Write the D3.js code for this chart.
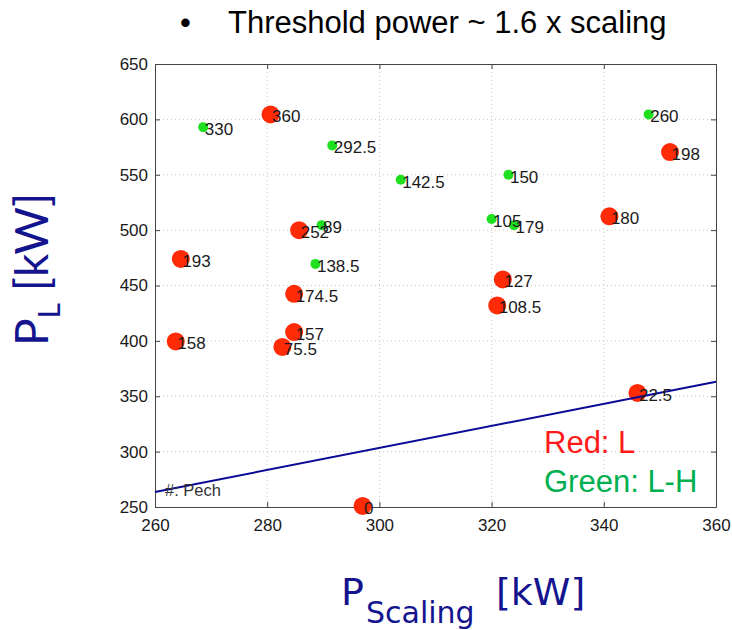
<!DOCTYPE html>
<html>
<head>
<meta charset="utf-8">
<script src="https://cdn.jsdelivr.net/npm/d3@7"></script>
<style>
  html, body { margin: 0; padding: 0; background: #fff; }
  svg { display: block; }
</style>
</head>
<body>
<svg id="chart" width="732" height="630"></svg>
<script>
// L-mode shots (red) and L-H transition shots (green): scaling power vs. measured power, labelled by Pech
const redX     = [280.6, 351.8, 285.7, 341.0, 264.6, 284.8, 263.7, 284.8, 282.7, 322.0, 321.0, 346.0, 297.0];
const redY     = [604.5, 570.5, 500.0, 512.5, 474.0, 442.5, 399.5, 408.0, 394.5, 455.5, 432.0, 353.0, 251.0];
const redLab   = ["360", "198", "252", "180", "193", "174.5", "158", "157", "75.5", "127", "108.5", "22.5", "0"];

const greenX   = [268.6, 291.6, 303.8, 289.7, 348.0, 323.0, 320.0, 324.0, 288.6];
const greenY   = [593.0, 576.5, 545.5, 504.5, 604.5, 550.0, 510.0, 504.5, 469.5];
const greenLab = ["330", "292.5", "142.5", "89", "260", "150", "105", "179", "138.5"];

// threshold line
const lineX = [260, 360];
const lineY = [263.5, 363];

const xTicks = [260, 280, 300, 320, 340, 360];
const yTicks = [250, 300, 350, 400, 450, 500, 550, 600, 650];

const svg = d3.select("#chart");
const margin = { left: 155, top: 64, right: 16, bottom: 123 };
const W = 732 - margin.left - margin.right;
const H = 630 - margin.top - margin.bottom;

const x = d3.scaleLinear().domain([260, 360]).range([0, W]);
const y = d3.scaleLinear().domain([250, 650]).range([H, 0]);

const g = svg.append("g").attr("transform", `translate(${margin.left},${margin.top})`);

// dotted grid
g.append("g").selectAll("line").data(xTicks.slice(1, -1)).join("line")
  .attr("x1", d => x(d)).attr("x2", d => x(d)).attr("y1", 0).attr("y2", H)
  .attr("stroke", "#c8c8c8").attr("stroke-dasharray", "1,3");
g.append("g").selectAll("line").data(yTicks.slice(1, -1)).join("line")
  .attr("y1", d => y(d)).attr("y2", d => y(d)).attr("x1", 0).attr("x2", W)
  .attr("stroke", "#c8c8c8").attr("stroke-dasharray", "1,3");

// axes with inward ticks on all four sides
const tickFont = "Liberation Sans, Arial, sans-serif";
function styleAxis(sel) {
  sel.select(".domain").attr("stroke", "#444");
  sel.selectAll(".tick line").attr("stroke", "#444");
  sel.selectAll(".tick text").attr("fill", "#1a1a1a").style("font-family", tickFont).style("font-size", "17px");
}
g.append("g").attr("transform", `translate(0,${H})`)
  .call(d3.axisBottom(x).tickValues(xTicks).tickSizeInner(-5).tickSizeOuter(0).tickPadding(12))
  .call(styleAxis);
g.append("g")
  .call(d3.axisLeft(y).tickValues(yTicks).tickSizeInner(-5).tickSizeOuter(0).tickPadding(7))
  .call(styleAxis);
g.append("g")
  .call(d3.axisTop(x).tickValues(xTicks).tickSizeInner(-5).tickSizeOuter(0).tickFormat(""))
  .call(styleAxis);
g.append("g").attr("transform", `translate(${W},0)`)
  .call(d3.axisRight(y).tickValues(yTicks).tickSizeInner(-5).tickSizeOuter(0).tickFormat(""))
  .call(styleAxis);

// markers
const red = redX.map((v, i) => ({ x: v, y: redY[i], lab: redLab[i] }));
const green = greenX.map((v, i) => ({ x: v, y: greenY[i], lab: greenLab[i] }));

g.append("g").selectAll("circle").data(red).join("circle")
  .attr("cx", d => x(d.x)).attr("cy", d => y(d.y)).attr("r", 9)
  .attr("fill", "#ff2a06");
g.append("g").selectAll("circle").data(green).join("circle")
  .attr("cx", d => x(d.x)).attr("cy", d => y(d.y)).attr("r", 5)
  .attr("fill", "#1ee01e");

// threshold line
g.append("path")
  .datum(lineX.map((v, i) => [v, lineY[i]]))
  .attr("d", d3.line().x(d => x(d[0])).y(d => y(d[1])))
  .attr("fill", "none").attr("stroke", "#0a0a96").attr("stroke-width", 2);

// point labels
g.append("g").selectAll("text").data(red.concat(green)).join("text")
  .attr("x", d => x(d.x) + 1.5).attr("y", d => y(d.y) + 8)
  .text(d => d.lab)
  .style("font-family", tickFont).style("font-size", "17px").attr("fill", "#1a1a1a");

g.append("text").attr("x", 10).attr("y", H - 11)
  .text("#: Pech")
  .style("font-family", tickFont).style("font-size", "16.5px").attr("fill", "#333");

// legend text
g.append("text").attr("x", 389).attr("y", 389).text("Red: L")
  .style("font-family", tickFont).style("font-size", "31px").attr("fill", "#ff1a1a");
g.append("text").attr("x", 389).attr("y", 428).text("Green: L-H")
  .style("font-family", tickFont).style("font-size", "31px").attr("fill", "#00b050");

// title bullet
svg.append("text").attr("x", 180).attr("y", 33).text("•")
  .style("font-family", tickFont).style("font-size", "31px").attr("fill", "#000");
svg.append("text").attr("x", 228).attr("y", 33).text("Threshold power ~ 1.6 x scaling")
  .style("font-family", tickFont).style("font-size", "31px").attr("fill", "#000");

// axis titles
const navy = "#14148f";
const xFont = "'DejaVu Sans', sans-serif";
svg.append("text").attr("x", 341).attr("y", 605).text("P")
  .style("font-family", xFont).style("font-size", "38px").attr("fill", navy);
svg.append("text").attr("x", 366).attr("y", 623).text("Scaling")
  .style("font-family", xFont).style("font-size", "30px").attr("fill", navy);
svg.append("text").attr("x", 496).attr("y", 605).text("[kW]")
  .style("font-family", xFont).style("font-size", "38px").attr("fill", navy);

const yFont = "Lato, 'DejaVu Sans', sans-serif";
const yl = svg.append("text").attr("transform", "translate(48,346) rotate(-90)")
  .style("font-family", yFont).attr("fill", navy);
yl.append("tspan").text("P").style("font-size", "46px");
yl.append("tspan").text("L").attr("dy", 12).style("font-size", "30px");
yl.append("tspan").text(" [kW]").attr("dy", -12).style("font-size", "46px");
</script>
</body>
</html>
